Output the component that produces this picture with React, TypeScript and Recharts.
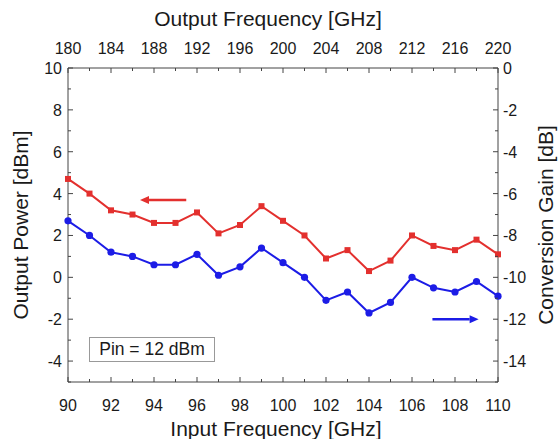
import React from 'react';
import { ComposedChart, Line, XAxis, YAxis, ReferenceLine } from 'recharts';

// ---- data ----
const inputFreq = [90, 91, 92, 93, 94, 95, 96, 97, 98, 99, 100, 101, 102, 103, 104, 105, 106, 107, 108, 109, 110];
const outputPower = [4.7, 4.0, 3.2, 3.0, 2.6, 2.6, 3.1, 2.1, 2.5, 3.4, 2.7, 2.0, 0.9, 1.3, 0.3, 0.8, 2.0, 1.5, 1.3, 1.8, 1.1];
const conversionGain = [-7.3, -8.0, -8.8, -9.0, -9.4, -9.4, -8.9, -9.9, -9.5, -8.6, -9.3, -10.0, -11.1, -10.7, -11.7, -11.2, -10.0, -10.5, -10.7, -10.2, -10.9];

// tick positions (input frequency, GHz); minor ticks every 1, labels every 2
const bottomTicks = [90, 91, 92, 93, 94, 95, 96, 97, 98, 99, 100, 101, 102, 103, 104, 105, 106, 107, 108, 109, 110];
// output frequency labels (GHz) for the top axis, at input = output / 2
const topTickLabels = [180, 184, 188, 192, 196, 200, 204, 208, 212, 216, 220];
const topTicks = [90, 91, 92, 93, 94, 95, 96, 97, 98, 99, 100, 101, 102, 103, 104, 105, 106, 107, 108, 109, 110];
const leftTicks = [-5, -4, -3, -2, -1, 0, 1, 2, 3, 4, 5, 6, 7, 8, 9, 10];
const rightTicks = [-15, -14, -13, -12, -11, -10, -9, -8, -7, -6, -5, -4, -3, -2, -1, 0];

const pinLabel = 'Pin = 12 dBm';

const data = inputFreq.map((f, i) => ({ f, pout: outputPower[i], gain: conversionGain[i] }));

// ---- layout ----
const W = 560;
const H = 439;
const PL = 68;
const PR = 498;
const PT = 68;
const PB = 382;
const RED = '#e3302e';
const BLUE = '#1c1ce6';
const AXIS = '#444';
const TXT = '#1a1a1a';
const FONT = '"Liberation Sans", Arial, sans-serif';
const TICK_FS = 16;
const TITLE_FS = 21;

const BottomTick = (p: any) => {
  const v = p.payload.value;
  const major = v % 2 === 0;
  return (
    <g>
      <line x1={p.x} x2={p.x} y1={PB} y2={PB - (major ? 5 : 3)} stroke={AXIS} />
      {major && (
        <text x={p.x} y={PB + 29} textAnchor="middle" fontSize={TICK_FS} fill={TXT} fontFamily={FONT}>{v}</text>
      )}
    </g>
  );
};

const TopTick = (p: any) => {
  const v = p.payload.value;
  const out = v * 2;
  const major = topTickLabels.indexOf(out) >= 0;
  return (
    <g>
      <line x1={p.x} x2={p.x} y1={PT} y2={PT + (major ? 5 : 3)} stroke={AXIS} />
      {major && (
        <text x={p.x} y={PT - 14} textAnchor="middle" fontSize={TICK_FS} fill={TXT} fontFamily={FONT}>{out}</text>
      )}
    </g>
  );
};

const LeftTick = (p: any) => {
  const v = p.payload.value;
  const major = v % 2 === 0;
  return (
    <g>
      <line x1={PL} x2={PL + (major ? 5 : 3)} y1={p.y} y2={p.y} stroke={AXIS} />
      {major && (
        <text x={PL - 6} y={p.y + 6} textAnchor="end" fontSize={TICK_FS} fill={TXT} fontFamily={FONT}>{v}</text>
      )}
    </g>
  );
};

const RightTick = (p: any) => {
  const v = p.payload.value;
  const major = v % 2 === 0;
  return (
    <g>
      <line x1={PR} x2={PR - (major ? 5 : 3)} y1={p.y} y2={p.y} stroke={AXIS} />
      {major && (
        <text x={PR + 5} y={p.y + 6} textAnchor="start" fontSize={TICK_FS} fill={TXT} fontFamily={FONT}>{v}</text>
      )}
    </g>
  );
};

const SquareDot = (p: any) => {
  if (p.cx == null || p.cy == null) return <g key={p.key} />;
  return <rect key={p.key} x={p.cx - 3} y={p.cy - 3} width={6} height={6} fill={RED} />;
};

const CircleDot = (p: any) => {
  if (p.cx == null || p.cy == null) return <g key={p.key} />;
  return <circle key={p.key} cx={p.cx} cy={p.cy} r={3.6} fill={BLUE} />;
};

const arrowShape = (color: string) => (p: any) => {
  const { x1, y1, x2, y2 } = p;
  const dx = x2 - x1;
  const dy = y2 - y1;
  const len = Math.sqrt(dx * dx + dy * dy) || 1;
  const ux = dx / len;
  const uy = dy / len;
  const hl = 9;
  const hw = 4;
  const bx = x2 - ux * hl;
  const by = y2 - uy * hl;
  return (
    <g>
      <line x1={x1} y1={y1} x2={bx} y2={by} stroke={color} strokeWidth={2.5} />
      <polygon
        points={`${x2},${y2} ${bx - uy * hw},${by + ux * hw} ${bx + uy * hw},${by - ux * hw}`}
        fill={color}
      />
    </g>
  );
};

const BottomTitle = () => (
  <text x={276} y={436} textAnchor="middle" fontSize={TITLE_FS} fill={TXT} fontFamily={FONT}>Input Frequency [GHz]</text>
);
const TopTitle = () => (
  <text x={268} y={26} textAnchor="middle" fontSize={TITLE_FS} fill={TXT} fontFamily={FONT}>Output Frequency [GHz]</text>
);
const LeftTitle = () => (
  <text transform={`translate(28, ${(PT + PB) / 2}) rotate(-90)`} textAnchor="middle" fontSize={TITLE_FS} fill={TXT} fontFamily={FONT}>Output Power [dBm]</text>
);
const RightTitle = () => (
  <text transform={`translate(553, ${(PT + PB) / 2}) rotate(-90)`} textAnchor="middle" fontSize={TITLE_FS} fill={TXT} fontFamily={FONT}>Conversion Gain [dB]</text>
);

export default function App() {
  return (
    <div style={{ position: 'absolute', left: 0, top: 0, width: W, height: H, background: '#fff', fontFamily: FONT }}>
      <ComposedChart
        width={W}
        height={H}
        data={data}
        margin={{ top: PT - 1, right: W - PR - 1, bottom: H - PB - 1, left: PL - 1 }}
      >
        <XAxis
          xAxisId="bottom"
          dataKey="f"
          type="number"
          domain={[90, 110]}
          ticks={bottomTicks}
          interval={0}
          height={1}
          tickSize={0}
          tickMargin={0}
          tickLine={false}
          axisLine={{ stroke: AXIS }}
          tick={<BottomTick />}
          label={<BottomTitle />}
        />
        <XAxis
          xAxisId="top"
          orientation="top"
          dataKey="f"
          type="number"
          domain={[90, 110]}
          ticks={topTicks}
          interval={0}
          height={1}
          tickSize={0}
          tickMargin={0}
          tickLine={false}
          axisLine={{ stroke: AXIS }}
          tick={<TopTick />}
          label={<TopTitle />}
        />
        <YAxis
          yAxisId="left"
          type="number"
          domain={[-5, 10]}
          allowDataOverflow
          ticks={leftTicks}
          interval={0}
          width={1}
          tickSize={0}
          tickMargin={0}
          tickLine={false}
          axisLine={{ stroke: AXIS }}
          tick={<LeftTick />}
          label={<LeftTitle />}
        />
        <YAxis
          yAxisId="right"
          orientation="right"
          type="number"
          domain={[-15, 0]}
          allowDataOverflow
          ticks={rightTicks}
          interval={0}
          width={1}
          tickSize={0}
          tickMargin={0}
          tickLine={false}
          axisLine={{ stroke: AXIS }}
          tick={<RightTick />}
          label={<RightTitle />}
        />
        <ReferenceLine
          xAxisId="bottom"
          yAxisId="left"
          segment={[{ x: 95.5, y: 3.7 }, { x: 93.35, y: 3.7 }]}
          shape={arrowShape(RED)}
          ifOverflow="visible"
        />
        <ReferenceLine
          xAxisId="bottom"
          yAxisId="right"
          segment={[{ x: 106.95, y: -12 }, { x: 109.1, y: -12 }]}
          shape={arrowShape(BLUE)}
          ifOverflow="visible"
        />
        <Line
          xAxisId="bottom"
          yAxisId="left"
          dataKey="pout"
          stroke={RED}
          strokeWidth={2}
          dot={<SquareDot />}
          isAnimationActive={false}
        />
        <Line
          xAxisId="bottom"
          yAxisId="right"
          dataKey="gain"
          stroke={BLUE}
          strokeWidth={2}
          dot={<CircleDot />}
          isAnimationActive={false}
        />
      </ComposedChart>
      <div
        style={{
          position: 'absolute',
          left: 89,
          top: 337,
          width: 126,
          height: 25,
          boxSizing: 'border-box',
          border: '1px solid #999',
          background: '#fff',
          fontSize: 17.5,
          lineHeight: '23px',
          textAlign: 'center',
          color: TXT,
          fontFamily: FONT,
        }}
      >
        {pinLabel}
      </div>
    </div>
  );
}
